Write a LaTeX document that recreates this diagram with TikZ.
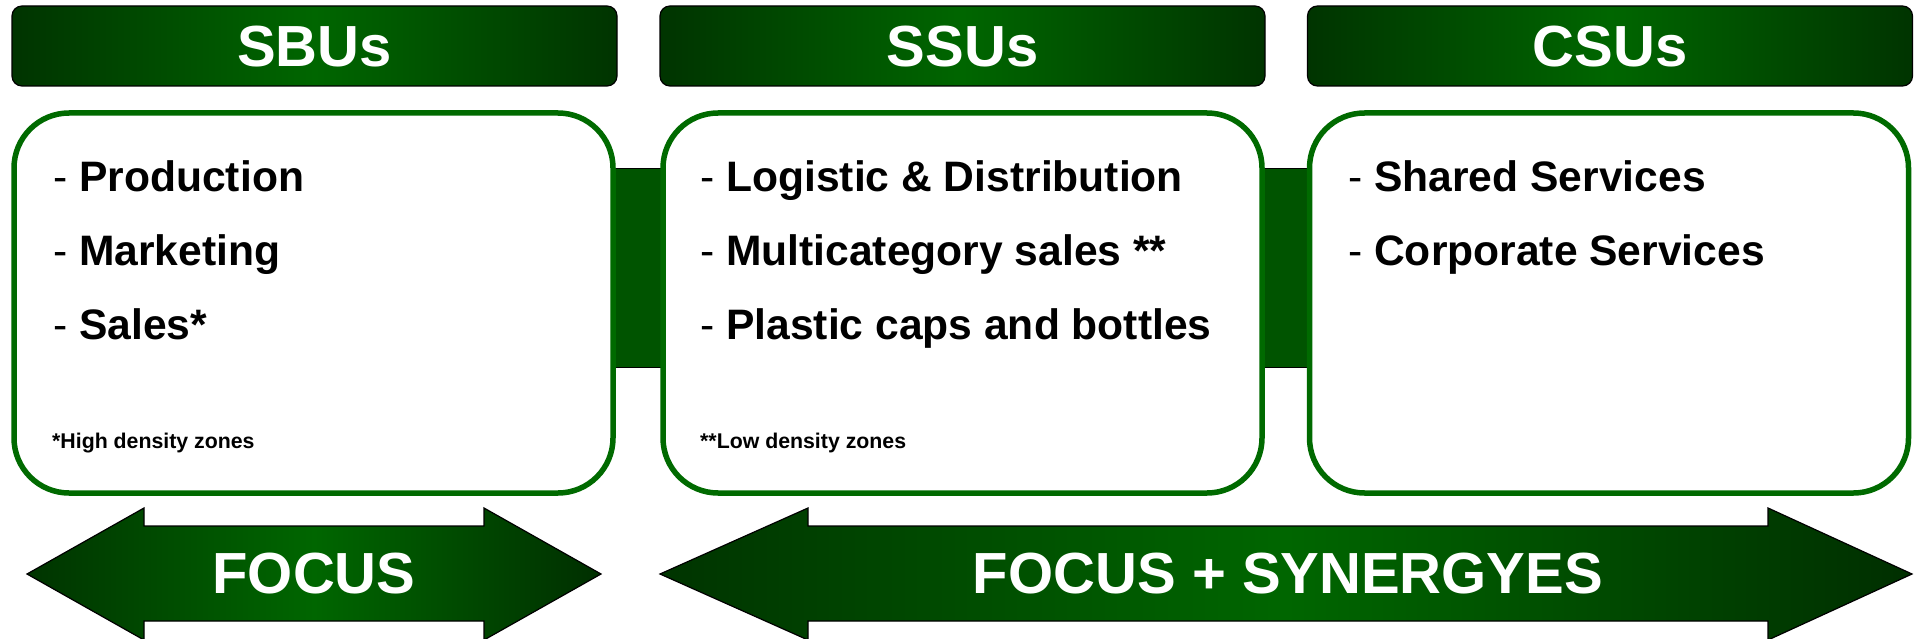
\documentclass[tikz,border=0pt]{standalone}
\usepackage{fontspec}
\setmainfont{Liberation Sans}
\definecolor{hdark}{RGB}{0,52,0}
\definecolor{hmid}{RGB}{0,102,0}
\definecolor{boxgreen}{RGB}{0,106,0}
\definecolor{linkgreen}{RGB}{0,84,0}
\begin{document}
\begin{tikzpicture}[x=1pt,y=-1pt,
  headbar/.style={draw=black, line width=1.2pt, rounded corners=10pt,
    left color=hdark, right color=hdark, middle color=hmid,
    minimum width=605pt, minimum height=80pt, inner sep=0pt},
  headtext/.style={text=white, font=\bfseries\fontsize{58}{60}\selectfont, inner sep=0pt, anchor=base},
  bodybox/.style={draw=boxgreen, line width=5.5pt, rounded corners=55pt, fill=white,
    minimum width=599pt, minimum height=380pt, inner sep=0pt},
  item/.style={font=\fontsize{42.6}{44}\selectfont, inner sep=0pt, anchor=base west},
  note/.style={font=\bfseries\fontsize{21.3}{23}\selectfont, inner sep=0pt, anchor=base west},
  linkbar/.style={fill=linkgreen, draw=none},
  bigarrow/.style={draw=black, line width=1.2pt, left color=hdark, right color=hdark!90!black, middle color=hmid},
  arrowtext/.style={text=white, font=\bfseries\fontsize{58}{60}\selectfont, inner sep=0pt, anchor=base}
]
\useasboundingbox (0,0) rectangle (1916,639);

% header bars
\node[headbar] (hsbu) at (314.5,46) {};
\node[headbar] (hssu) at (962.5,46) {};
\node[headbar] (hcsu) at (1610,46) {};
\node[headtext] (tsbu) at (314.5,67) {SBUs};
\node[headtext] (tssu) at (962.5,67) {SSUs};
\node[headtext] (tcsu) at (1610,67) {CSUs};

% links between the unit boxes
\fill[linkbar] (615,169) rectangle (662,367);
\draw[black, line width=1pt] (615,169) -- (662,169) (615,367) -- (662,367);
\fill[linkbar] (1263,169) rectangle (1310,367);
\draw[black, line width=1pt] (1263,169) -- (1310,169) (1263,367) -- (1310,367);

% unit boxes
\node[bodybox] (bsbu) at (313.5,303) {};
\node[bodybox] (bssu) at (962.5,303) {};
\node[bodybox] (bcsu) at (1609,303) {};

% SBU items
\node[item] (s1) at (53,192) {-~\textbf{Production}};
\node[item] (s2) at (53,265.5) {-~\textbf{Marketing}};
\node[item] (s3) at (53,339) {-~\textbf{Sales*}};
\node[note] (sn) at (52,448.5) {*High density zones};

% SSU items
\node[item] (u1) at (700,192) {-~\textbf{Logistic \& Distribution}};
\node[item] (u2) at (700,265.5) {-~\textbf{Multicategory sales **}};
\node[item] (u3) at (700,339) {-~\textbf{Plastic caps and bottles}};
\node[note] (un) at (700,448.5) {**Low density zones};

% CSU items
\node[item] (c1) at (1348,192) {-~\textbf{Shared Services}};
\node[item] (c2) at (1348,265.5) {-~\textbf{Corporate Services}};

% double arrows
\path[bigarrow] (27,574) -- (144,508) -- (144,526) -- (484,526) -- (484,508) -- (601,574)
  -- (484,640) -- (484,621) -- (144,621) -- (144,640) -- cycle;
\node[arrowtext] (afocus) at (314,593) {FOCUS};

\path[bigarrow] (660,574) -- (808,508) -- (808,526) -- (1768,526) -- (1768,508) -- (1912,574)
  -- (1768,640) -- (1768,621) -- (808,621) -- (808,640) -- cycle;
\node[arrowtext] (asyn) at (1288,593) {FOCUS + SYNERGYES};
\end{tikzpicture}
\end{document}
